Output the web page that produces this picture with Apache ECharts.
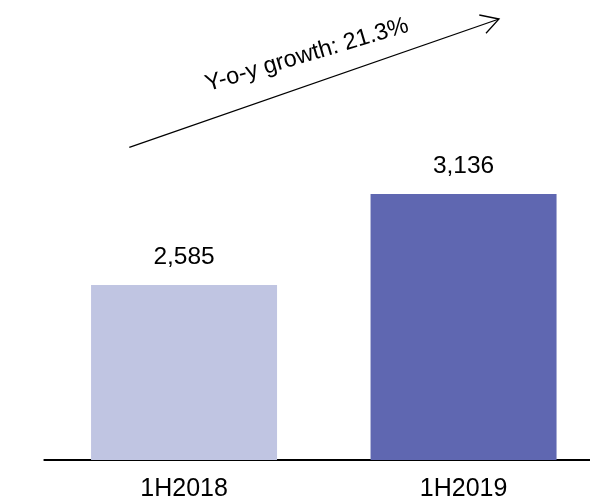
<!DOCTYPE html>
<html>
<head>
<meta charset="utf-8">
<script src="https://cdn.jsdelivr.net/npm/echarts@6/dist/echarts.min.js"></script>
<style>html,body{margin:0;padding:0;background:#fff}#c{width:590px;height:503px}</style>
</head>
<body>
<div id="c"></div>
<script>
var categories = ['1H2018', '1H2019'];
var values = [2585, 3136];
var barColors = ['#c0c5e2', '#5f67b1'];
var growthText = 'Y-o-y growth: 21.3%';

var chart = echarts.init(document.getElementById('c'), null, {renderer: 'canvas'});
var FONT = '"Liberation Sans", Arial, sans-serif';
chart.setOption({
  animation: false,
  grid: {left: 44.3, width: 559, top: 51.4, bottom: 43, outerBoundsMode: 'none', containLabel: false},
  xAxis: {
    type: 'category',
    data: categories,
    axisLine: {show: true, lineStyle: {color: '#000', width: 2}},
    axisTick: {show: false},
    axisLabel: {color: '#000', fontSize: 25, fontFamily: FONT, margin: 17}
  },
  yAxis: {
    type: 'value', min: 1525, max: 4000,
    show: false, splitLine: {show: false}
  },
  series: [{
    type: 'bar',
    barWidth: 186,
    data: values.map(function (v, i) { return {value: v, itemStyle: {color: barColors[i]}}; }),
    label: {
      show: true, position: 'top', distance: 15,
      color: '#000', fontSize: 24.5, fontFamily: FONT,
      formatter: function (p) { return p.value.toLocaleString('en-US'); }
    }
  }],
  graphic: [
    {type: 'line', shape: {x1: 129.3, y1: 147.3, x2: 499, y2: 19}, style: {stroke: '#000', lineWidth: 1.3}},
    {type: 'polyline', shape: {points: [[479.3, 15], [499, 19], [486, 33.3]]}, style: {stroke: '#000', lineWidth: 1.3, fill: null}},
    {type: 'text', x: 307, y: 55, rotation: 16.5 * Math.PI / 180,
     style: {text: growthText, fill: '#000', font: '23.5px ' + FONT, align: 'center', verticalAlign: 'middle'}}
  ]
});
</script>
</body>
</html>
